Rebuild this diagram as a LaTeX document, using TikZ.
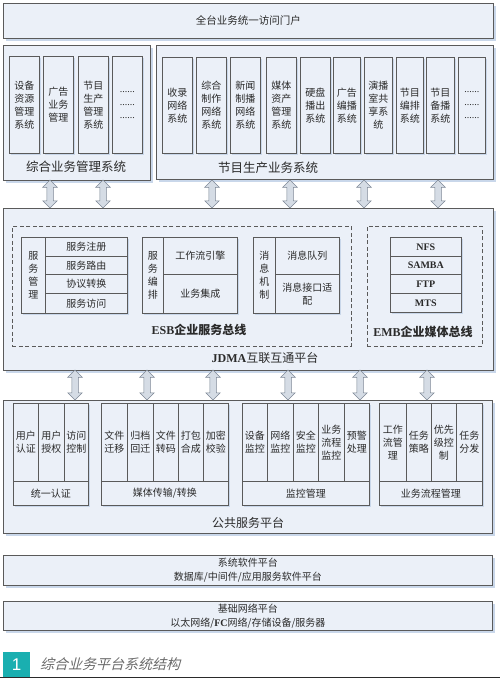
\documentclass[tikz,border=0pt]{standalone}
\usepackage{fontspec}
\setmainfont{Noto Sans CJK SC}
\newfontfamily\latin{Liberation Serif}
\newfontfamily\numfont{Liberation Sans}
\newfontfamily\capfont[FakeSlant=0.25]{Noto Sans CJK SC}
\usepackage{xcolor}
\usepackage{tikz}
\usetikzlibrary{shapes.arrows,shadows}

\definecolor{boxfill}{HTML}{EBF0F8}
\definecolor{boxline}{HTML}{5A5A5A}
\definecolor{shadowblue}{HTML}{C9D7EA}
\definecolor{arrowfill}{HTML}{D5DCE5}
\definecolor{arrowline}{HTML}{7D8796}
\definecolor{tealmark}{HTML}{1AAFB0}
\definecolor{captext}{HTML}{6A6A6A}
\definecolor{inktext}{HTML}{2A2A2A}

\tikzset{
  panel/.style={draw=boxline, fill=boxfill, line width=0.8pt, anchor=north west, inner sep=0pt,
    general shadow={fill=shadowblue, shadow xshift=3pt, shadow yshift=-3pt}},
  cell/.style={draw=boxline, fill=boxfill, line width=0.6pt, anchor=north west, inner sep=0pt,
    align=center, text=inktext, font=\fontsize{10}{13}\selectfont,
    general shadow={fill=shadowblue, shadow xshift=2pt, shadow yshift=-2pt}},
  busbox/.style={draw=boxline, dash pattern=on 4pt off 2.5pt, line width=0.6pt, anchor=north west, inner sep=0pt},
  sz/.style 2 args={minimum width=#1pt, minimum height=#2pt},
  dblarrow/.style={double arrow, shape border rotate=90, draw=arrowline, fill=arrowfill, line width=0.5pt,
    inner sep=3pt, double arrow head extend=4pt, minimum height=28pt},
  lbl/.style={font=\fontsize{12.5}{14}\selectfont, text=inktext, inner sep=0pt},
}

\begin{document}
\begin{tikzpicture}[x=1pt, y=-1pt]
    \useasboundingbox (0,0) rectangle (500,679);

    % 1. PORTAL
    \node[panel, sz={490}{35}, text=inktext, font=\fontsize{10.5}{12}\selectfont] (portal) at (3,3) {全台业务统一访问门户};

    % 2. BUSINESS MANAGEMENT + PRODUCTION SYSTEMS
    \node[panel, sz={147}{135}] (mgmt) at (3,45) {};
    \node[cell, sz={30}{97}] (m1) at (9,56) {设备\\资源\\管理\\系统};
    \node[cell, sz={30}{97}] (m2) at (43,56) {广告\\业务\\管理};
    \node[cell, sz={30}{97}] (m3) at (78,56) {节目\\生产\\管理\\系统};
    \node[cell, sz={30}{97}] (m4) at (112,56) {\latin ......\\\latin ......\\\latin ......};
    \node[lbl] (mgmtlbl) at (76,167) {综合业务管理系统};

    \node[panel, sz={337}{134}] (prod) at (156,45) {};
    \node[cell, sz={30}{96}] (p1) at (162,57) {收录\\网络\\系统};
    \node[cell, sz={30}{96}] (p2) at (196,57) {综合\\制作\\网络\\系统};
    \node[cell, sz={30}{96}] (p3) at (230,57) {新闻\\制播\\网络\\系统};
    \node[cell, sz={30}{96}] (p4) at (266,57) {媒体\\资产\\管理\\系统};
    \node[cell, sz={30}{96}] (p5) at (300,57) {硬盘\\播出\\系统};
    \node[cell, sz={27}{96}] (p6) at (333,57) {广告\\编播\\系统};
    \node[cell, sz={28}{96}] (p7) at (364,57) {演播\\室共\\享系\\统};
    \node[cell, sz={27}{96}] (p8) at (396,57) {节目\\编排\\系统};
    \node[cell, sz={28}{96}] (p9) at (426,57) {节目\\备播\\系统};
    \node[cell, sz={27}{96}] (p10) at (458,57) {\latin ......\\\latin ......\\\latin ......};
    \node[lbl] (prodlbl) at (268,168) {节目生产业务系统};

    % 3. JDMA INTERCONNECT PLATFORM
    \node[panel, sz={490}{162}] (jdma) at (3,208) {};
    \node[busbox, sz={339}{120}] (esb) at (12,226) {};
    \node[busbox, sz={115}{120}] (emb) at (367,226) {};

    % service management
    \node[cell, sz={24}{76}] (svc) at (21,237) {服\\务\\管\\理};
    \node[cell, sz={82}{19}] (svc1) at (45,237) {服务注册};
    \node[cell, sz={82}{18}] (svc2) at (45,256) {服务路由};
    \node[cell, sz={82}{19}] (svc3) at (45,274) {协议转换};
    \node[cell, sz={82}{20}] (svc4) at (45,293) {服务访问};

    % orchestration
    \node[cell, sz={21}{76}] (orch) at (142,237) {服\\务\\编\\排};
    \node[cell, sz={74}{37}] (orch1) at (163,237) {工作流引擎};
    \node[cell, sz={74}{39}] (orch2) at (163,274) {业务集成};

    % messaging
    \node[cell, sz={22}{76}] (msg) at (253,237) {消\\息\\机\\制};
    \node[cell, sz={64}{37}] (msg1) at (275,237) {消息队列};
    \node[cell, sz={64}{39}] (msg2) at (275,274) {消息接口适\\配};

    % media bus items
    \node[cell, sz={71}{19}, font=\latin\bfseries\fontsize{10}{12}\selectfont] (emb1) at (390,237) {NFS};
    \node[cell, sz={71}{18}, font=\latin\bfseries\fontsize{10}{12}\selectfont] (emb2) at (390,256) {SAMBA};
    \node[cell, sz={71}{19}, font=\latin\bfseries\fontsize{10}{12}\selectfont] (emb3) at (390,274) {FTP};
    \node[cell, sz={71}{19}, font=\latin\bfseries\fontsize{10}{12}\selectfont] (emb4) at (390,293) {MTS};

    \node[lbl, font=\bfseries\fontsize{12}{14}\selectfont] (esblbl) at (199,330) {{\latin ESB}企业服务总线};
    \node[lbl, font=\bfseries\fontsize{12}{14}\selectfont] (emblbl) at (423,332) {{\latin EMB}企业媒体总线};
    \node[lbl, font=\fontsize{12}{14}\selectfont] (jdmalbl) at (265,358) {{\latin\bfseries JDMA}互联互通平台};

    % 4. PUBLIC SERVICE PLATFORM
    \node[panel, sz={489}{133}] (pub) at (3,400) {};

    % unified authentication
    \node[cell, sz={25}{78}] (au1) at (13,403) {用户\\认证};
    \node[cell, sz={26}{78}] (au2) at (38,403) {用户\\授权};
    \node[cell, sz={24}{78}] (au3) at (64,403) {访问\\控制};
    \node[cell, sz={75}{24}] (au) at (13,481) {统一认证};

    % media transfer
    \node[cell, sz={26}{78}] (mt1) at (101,403) {文件\\迁移};
    \node[cell, sz={26}{78}] (mt2) at (127,403) {归档\\回迁};
    \node[cell, sz={25}{78}] (mt3) at (153,403) {文件\\转码};
    \node[cell, sz={25}{78}] (mt4) at (178,403) {打包\\合成};
    \node[cell, sz={25}{78}] (mt5) at (203,403) {加密\\校验};
    \node[cell, sz={127}{24}] (mt) at (101,481) {媒体传输/转换};

    % monitoring
    \node[cell, sz={25}{78}] (mo1) at (242,403) {设备\\监控};
    \node[cell, sz={26}{78}] (mo2) at (267,403) {网络\\监控};
    \node[cell, sz={25}{78}] (mo3) at (293,403) {安全\\监控};
    \node[cell, sz={26}{78}] (mo4) at (318,403) {业务\\流程\\监控};
    \node[cell, sz={25}{78}] (mo5) at (344,403) {预警\\处理};
    \node[cell, sz={127}{24}] (mo) at (242,481) {监控管理};

    % workflow management
    \node[cell, sz={27}{78}] (wf1) at (379,403) {工作\\流管\\理};
    \node[cell, sz={25}{78}] (wf2) at (406,403) {任务\\策略};
    \node[cell, sz={25}{78}] (wf3) at (431,403) {优先\\级控\\制};
    \node[cell, sz={26}{78}] (wf4) at (456,403) {任务\\分发};
    \node[cell, sz={103}{24}] (wf) at (379,481) {业务流程管理};

    \node[lbl, font=\fontsize{12}{14}\selectfont] (publbl) at (248,523) {公共服务平台};

    % 5. SYSTEM SOFTWARE + BASIC NETWORK
    \node[panel, sz={489}{30}, align=center, text=inktext, font=\fontsize{10}{14}\selectfont] (soft) at (3,555) {系统软件平台\\数据库/中间件/应用服务软件平台};
    \node[panel, sz={489}{29}, align=center, text=inktext, font=\fontsize{10}{14}\selectfont] (net) at (3,601) {基础网络平台\\以太网络/{\latin\bfseries FC}网络/存储设备/服务器};

    % 6. LINK ARROWS (upper row)
    \node[dblarrow] (a1) at (50,194) {};
    \node[dblarrow] (a2) at (103,194) {};
    \node[dblarrow] (a3) at (212,194) {};
    \node[dblarrow] (a4) at (290,194) {};
    \node[dblarrow] (a5) at (364,194) {};
    \node[dblarrow] (a6) at (438,194) {};

    % lower row
    \node[dblarrow, minimum height=30pt] (b1) at (75,385) {};
    \node[dblarrow, minimum height=30pt] (b2) at (147,385) {};
    \node[dblarrow, minimum height=30pt] (b3) at (213,385) {};
    \node[dblarrow, minimum height=30pt] (b4) at (288,385) {};
    \node[dblarrow, minimum height=30pt] (b5) at (360,385) {};
    \node[dblarrow, minimum height=30pt] (b6) at (427,385) {};

    % 7. CAPTION
    \node[fill=tealmark, anchor=north west, sz={27}{25}, inner sep=0pt, text=white, font=\numfont\fontsize{17}{17}\selectfont] (capnum) at (3,652) {1};
    \node[anchor=west, inner sep=0pt, text=captext, font=\capfont\fontsize{14}{16}\selectfont] (captxt) at (40,664) {综合业务平台系统结构};
    \draw[line width=1pt, draw=inktext] (0,677) -- (500,677);

\end{tikzpicture}
\end{document}
